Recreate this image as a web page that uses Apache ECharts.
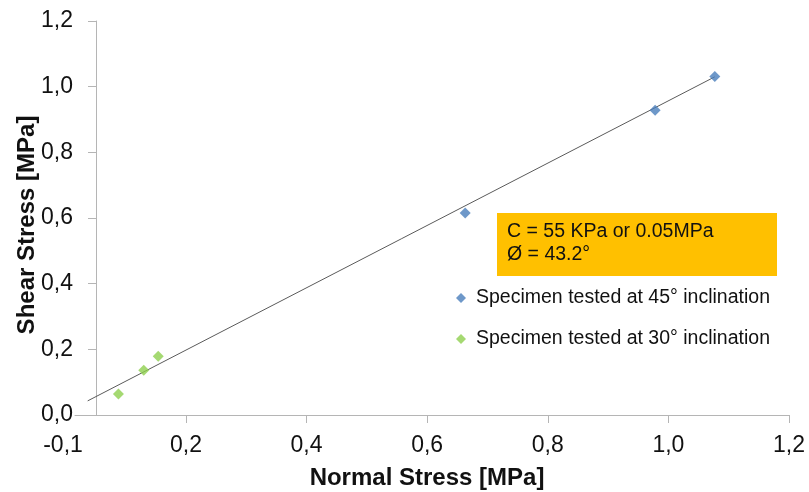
<!DOCTYPE html>
<html>
<head>
<meta charset="utf-8">
<script src="https://cdn.jsdelivr.net/npm/echarts@6/dist/echarts.min.js"></script>
<style>
  html, body { margin: 0; padding: 0; background: #fff; }
  #chart { width: 809px; height: 492px; }
</style>
</head>
<body>
<div id="chart"></div>
<script>
// data
var series45Name = 'Specimen tested at 45° inclination';
var series30Name = 'Specimen tested at 30° inclination';
var normal45 = [0.663, 0.978, 1.077];
var shear45 = [0.615, 0.928, 1.031];
var normal30 = [0.088, 0.130, 0.154];
var shear30 = [0.064, 0.136, 0.179];
// fitted envelope, end points as drawn
var trendNormal = [0.037, 1.077];
var trendShear = [0.043, 1.030];
var xTickValues = [0.2, 0.4, 0.6, 0.8, 1.0, 1.2];
var xFirstLabel = '-0,1';
var noteLines = ['C = 55 KPa or 0.05MPa', 'Ø = 43.2°'];

var xMin = 0.016;
var font = 'Liberation Sans, Arial, sans-serif';

function pairs(xs, ys) {
	var out = [];
	for (var i = 0; i < xs.length; i++) {
		out.push([xs[i], ys[i]]);
	}
	return out;
}
function comma(v) {
	return v.toFixed(1).replace('.', ',');
}

var chart = echarts.init(document.getElementById('chart'));

var option = {
	animation: false,
	textStyle: { fontFamily: font },
	grid: { left: 75, right: 20, top: 21, bottom: 77, containLabel: false, outerBoundsMode: 'none' },
	legend: {
		orient: 'vertical',
		left: 451,
		top: 283,
		itemGap: 21,
		itemWidth: 10,
		itemHeight: 10,
		icon: 'diamond',
		data: [series45Name, series30Name],
		textStyle: { fontSize: 19.5, color: '#111', fontFamily: font, padding: [0, 0, 0, 5] }
	},
	xAxis: {
		type: 'value',
		min: xMin,
		max: 1.2,
		name: 'Normal Stress [MPa]',
		nameLocation: 'middle',
		nameGap: 51,
		nameMoveOverlap: false,
		nameTextStyle: { fontSize: 24, fontWeight: 'bold', color: '#111', fontFamily: font, padding: [0, 10, 0, 0] },
		splitLine: { show: false },
		axisLine: { lineStyle: { color: '#b5b5b5', width: 1 } },
		axisTick: { show: true, length: 8, lineStyle: { color: '#b5b5b5' }, customValues: xTickValues },
		axisLabel: {
			fontSize: 23,
			color: '#111',
			margin: 19,
			customValues: [xMin].concat(xTickValues),
			formatter: function (v) {
				if (v < 0.1) return '{a|' + xFirstLabel + '}';
				return comma(v);
			},
			rich: { a: { fontSize: 23, color: '#111', padding: [0, 24, 0, 0] } }
		}
	},
	yAxis: {
		type: 'value',
		min: 0,
		max: 1.2,
		interval: 0.2,
		offset: -21,
		name: 'Shear Stress [MPa]',
		nameLocation: 'middle',
		nameGap: 57,
		nameMoveOverlap: false,
		nameTextStyle: { fontSize: 24, fontWeight: 'bold', color: '#111', fontFamily: font, padding: [0, 14, 0, 0] },
		splitLine: { show: false },
		axisLine: { show: true, lineStyle: { color: '#b5b5b5', width: 1 } },
		axisTick: { show: true, length: 8, lineStyle: { color: '#b5b5b5' } },
		axisLabel: { fontSize: 23, color: '#111', margin: 23, formatter: comma }
	},
	graphic: [{
		type: 'group',
		left: 497,
		top: 213,
		children: [{
			type: 'rect',
			shape: { x: 0, y: 0, width: 280, height: 63 },
			style: { fill: '#FFC000' }
		}, {
			type: 'text',
			x: 10,
			y: 7,
			style: {
				text: noteLines.join('\n'),
				font: '19.5px ' + font,
				lineHeight: 23,
				fill: '#111'
			}
		}]
	}],
	series: [{
		name: 'trend',
		type: 'line',
		data: pairs(trendNormal, trendShear),
		symbol: 'none',
		lineStyle: { color: '#5a5a5a', width: 1 },
		z: 1
	}, {
		name: series45Name,
		type: 'scatter',
		symbol: 'diamond',
		symbolSize: 11,
		itemStyle: { color: '#4A7EBB' },
		data: pairs(normal45, shear45),
		z: 3
	}, {
		name: series30Name,
		type: 'scatter',
		symbol: 'diamond',
		symbolSize: 11,
		itemStyle: { color: '#8ED04F' },
		data: pairs(normal30, shear30),
		z: 3
	}]
};
chart.setOption(option);
</script>
</body>
</html>
